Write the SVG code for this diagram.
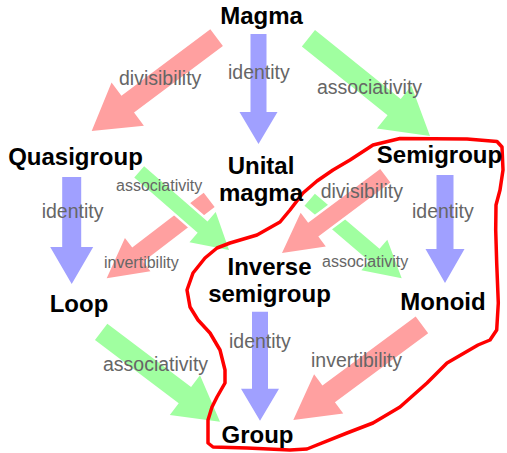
<svg xmlns="http://www.w3.org/2000/svg" width="507" height="453" viewBox="0 0 507 453">
<style>
.r{fill:#ffa0a0}
.b{fill:#a0a0ff}
.g{fill:#a0ffa0}
.top{stroke:#fff;stroke-width:5;paint-order:stroke;stroke-linejoin:miter}
.n{font-family:"Liberation Sans",Arial,sans-serif;font-weight:bold;font-size:24px;fill:#000;text-anchor:middle}
.e{font-family:"Liberation Sans",Arial,sans-serif;font-size:19.5px;fill:#666}
.s{font-size:16px}
</style>
<rect width="507" height="453" fill="#fff"/>
<g id="connectors">
<polygon class="r" transform="translate(91.7,131) rotate(143.2)" points="-156,-10.5 -45,-10.5 -45,-27 0,0 -45,27 -45,10.5 -156,10.5"/>
<polygon class="b" transform="translate(258.5,144) rotate(90)" points="-110,-8 -32,-8 -32,-19 0,0 -32,19 -32,8 -110,8"/>
<polygon class="g" transform="translate(430,136) rotate(38.8)" points="-156,-10.5 -46,-10.5 -46,-27.5 0,0 -46,27.5 -46,10.5 -156,10.5"/>
<polygon class="b" transform="translate(71.7,284) rotate(90)" points="-107,-9.5 -37,-9.5 -37,-21.5 0,0 -37,21.5 -37,9.5 -107,9.5"/>
<polygon class="b" transform="translate(445,283) rotate(90)" points="-108,-8.5 -34,-8.5 -34,-19.5 0,0 -34,19.5 -34,8.5 -108,8.5"/>
<polygon class="b" transform="translate(260,420.7) rotate(90)" points="-109,-8 -32,-8 -32,-19 0,0 -32,19 -32,8 -109,8"/>
<polygon class="r" transform="translate(106.7,278.3) rotate(142.6)" points="-129,-9 -39,-9 -39,-21 0,0 -39,21 -39,9 -129,9"/>
<polygon class="g top" transform="translate(229,250) rotate(41)" points="-119,-7.5 -35,-7.5 -35,-20 0,0 -35,20 -35,7.5 -119,7.5"/>
<polygon class="g" transform="translate(401.7,278.3) rotate(40.5)" points="-121,-8 -36,-8 -36,-20 0,0 -36,20 -36,8 -121,8"/>
<polygon class="r top" transform="translate(282,253) rotate(143.2)" points="-129,-8.5 -39,-8.5 -39,-21 0,0 -39,21 -39,8.5 -129,8.5"/>
<polygon class="g" transform="translate(220,421.7) rotate(37.1)" points="-149,-10.25 -44,-10.25 -44,-25 0,0 -44,25 -44,10.25 -149,10.25"/>
<polygon class="r" transform="translate(293.3,420) rotate(143.5)" points="-160,-10.5 -44,-10.5 -44,-24.5 0,0 -44,24.5 -44,10.5 -160,10.5"/>
</g>
<g id="edge-labels">
<text class="e" x="119" y="85">divisibility</text>
<text class="e" x="228" y="79">identity</text>
<text class="e" x="317" y="94">associativity</text>
<text class="e" x="41.7" y="218">identity</text>
<text class="e s" x="116" y="191">associativity</text>
<text class="e s" x="104" y="268">invertibility</text>
<text class="e" x="320.7" y="198">divisibility</text>
<text class="e" x="412" y="218">identity</text>
<text class="e s" x="322" y="267">associativity</text>
<text class="e" x="103" y="371">associativity</text>
<text class="e" x="229" y="348">identity</text>
<text class="e" x="311" y="367">invertibility</text>
</g>
<g id="outline">
<path d="M373,145 L400,138.5 L467,139 L497,141.5 L502,147 L503,170 L500,190 L496,205 L495.7,230 L496.7,263 L498.3,303 L496.7,330 L490,340 L478,345 L447,363 L427,383 L400,407 L373,423 L347,433 L307,449 L290,450 L247,448 L213,447 L208,443 L208,420 L212,407 L217,397 L225,383 L225,370 L220,350 L210,333 L198,320 L190,307 L187,290 L193,273 L205,258 L217,248 L230,243 L257,235 L280,222 L290,210 L303,193 L317,181 L333,170 L350,160 Z" fill="none" stroke="#f00" stroke-width="3.5" stroke-linejoin="round"/>
</g>
<g id="magma"><text class="n" x="261.5" y="24">Magma</text></g>
<g id="quasigroup"><text class="n" x="75.5" y="165">Quasigroup</text></g>
<g id="unital-magma"><text class="n" x="261" y="173.5">Unital</text><text class="n" x="261" y="200.5">magma</text></g>
<g id="semigroup"><text class="n" x="439.5" y="163">Semigroup</text></g>
<g id="inverse-semigroup"><text class="n" x="269.5" y="275">Inverse</text><text class="n" x="269.5" y="302">semigroup</text></g>
<g id="monoid"><text class="n" x="443" y="310">Monoid</text></g>
<g id="loop"><text class="n" x="79" y="312">Loop</text></g>
<g id="group"><text class="n" x="257.5" y="443">Group</text></g>
</svg>
